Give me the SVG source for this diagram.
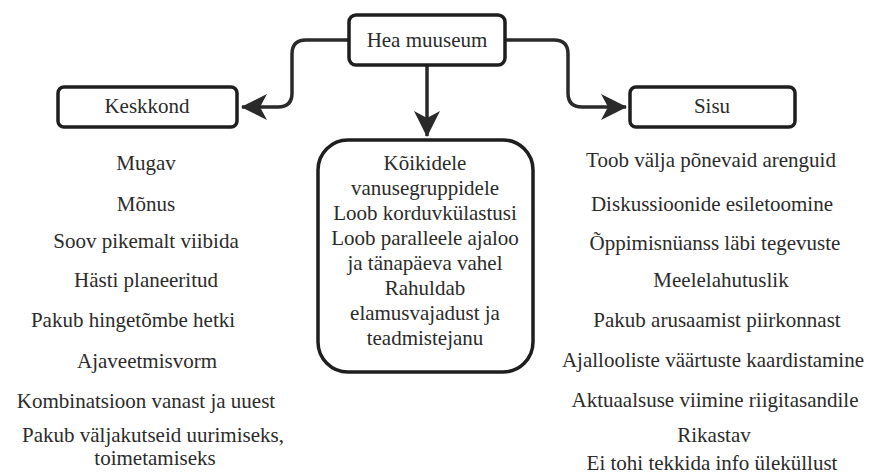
<svg xmlns="http://www.w3.org/2000/svg" width="872" height="475" viewBox="0 0 872 475">
<defs>
<style>
.box{fill:#fff;stroke:#1e1e1e;stroke-width:3.5}
.t{fill:#2b2b2b;text-anchor:middle}
.c{fill:none;stroke:#2a2a2a;stroke-width:3.5}
</style>
<marker id="ah" markerUnits="userSpaceOnUse" markerWidth="30" markerHeight="30" viewBox="-26 -15 28 30" refX="0" refY="0" orient="auto">
<path d="M1,0 L-25,-13 L-18,0 L-25,13 Z" fill="#2a2a2a"/>
</marker>
</defs>
<rect width="872" height="475" fill="#fff"/>
<g id="connectors">
<path class="c" d="M349,40 H306 Q292,40 292,54 V93 Q292,107 278,107 H242" marker-end="url(#ah)"/>
<path class="c" d="M505,40 H554 Q568,40 568,54 V93 Q568,107 582,107 H626" marker-end="url(#ah)"/>
<path class="c" d="M427,66 V136" marker-end="url(#ah)"/>
</g>
<g font-family="'Liberation Serif', Tinos, 'Nimbus Roman', 'Nimbus Roman No9 L', Times, FreeSerif, 'Noto Serif', 'DejaVu Serif', serif" font-size="21px">
<g id="hea-muuseum">
<rect class="box" x="349" y="15" width="156" height="50" rx="7"/>
<text class="t" x="427" y="47">Hea muuseum</text>
</g>
<g id="keskkond">
<rect class="box" x="58" y="87" width="179" height="40" rx="6"/>
<text class="t" x="147" y="113">Keskkond</text>
</g>
<g id="sisu">
<rect class="box" x="630" y="87" width="165" height="40" rx="6"/>
<text class="t" x="712" y="113">Sisu</text>
</g>
<g id="keskus">
<rect class="box" x="318" y="140" width="215" height="232" rx="30"/>
<text class="t" x="425" y="170">Kõikidele</text>
<text class="t" x="425" y="195">vanusegruppidele</text>
<text class="t" x="425" y="220">Loob korduvkülastusi</text>
<text class="t" x="425" y="245">Loob paralleele ajaloo</text>
<text class="t" x="425" y="270">ja tänapäeva vahel</text>
<text class="t" x="425" y="295">Rahuldab</text>
<text class="t" x="425" y="320">elamusvajadust ja</text>
<text class="t" x="425" y="345">teadmistejanu</text>
</g>
<g id="keskkond-list">
<text class="t" x="146" y="170">Mugav</text>
<text class="t" x="146" y="211">Mõnus</text>
<text class="t" x="146" y="248">Soov pikemalt viibida</text>
<text class="t" x="146" y="287">Hästi planeeritud</text>
<text class="t" x="133" y="327">Pakub hingetõmbe hetki</text>
<text class="t" x="147" y="368">Ajaveetmisvorm</text>
<text class="t" x="146" y="408">Kombinatsioon vanast ja uuest</text>
<text class="t" x="153" y="442">Pakub väljakutseid uurimiseks,</text>
<text class="t" x="155" y="465">toimetamiseks</text>
</g>
<g id="sisu-list">
<text class="t" x="711" y="167">Toob välja põnevaid arenguid</text>
<text class="t" x="712" y="211">Diskussioonide esiletoomine</text>
<text class="t" x="715" y="250">Õppimisnüanss läbi tegevuste</text>
<text class="t" x="721" y="287">Meelelahutuslik</text>
<text class="t" x="717" y="327">Pakub arusaamist piirkonnast</text>
<text class="t" x="713" y="367">Ajallooliste väärtuste kaardistamine</text>
<text class="t" x="715" y="407">Aktuaalsuse viimine riigitasandile</text>
<text class="t" x="714" y="442">Rikastav</text>
<text class="t" x="712" y="470">Ei tohi tekkida info üleküllust</text>
</g>
</g>
</svg>
